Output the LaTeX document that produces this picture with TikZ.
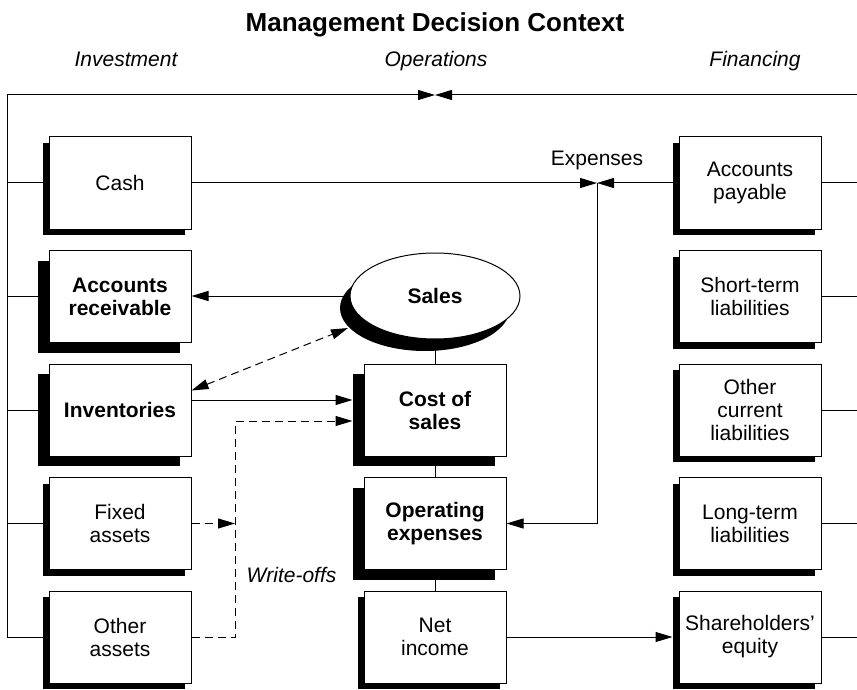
\documentclass[tikz,border=0pt]{standalone}
\usepackage{fontspec}
\setmainfont{Liberation Sans}
\usetikzlibrary{positioning,shadows,shapes.geometric,arrows.meta}

\begin{document}
\begin{tikzpicture}[x=1pt, y=-1pt, node distance=113.5pt,
        font=\fontsize{21}{23}\selectfont,
        cell/.style={rectangle, draw, line width=1pt, fill=white, minimum width=142pt, minimum height=92pt, inner sep=2pt, align=center},
        thin/.style={cell, drop shadow={shadow xshift=-6pt, shadow yshift=-6pt, opacity=1, fill=black}},
        heavy/.style={cell, font=\fontsize{21}{23}\selectfont\bfseries, drop shadow={shadow xshift=-11pt, shadow yshift=-10pt, opacity=1, fill=black}},
        link/.style={line width=1pt},
        flow/.style={line width=1pt, -{Triangle[length=17pt,width=10pt]}},
        wo/.style={dash pattern=on 8pt off 5pt},
        head/.style={anchor=base, font=\fontsize{21}{23}\selectfont\itshape}]
        \useasboundingbox (0,0) rectangle (857,690);

        % Headings
        \node (title) [anchor=base, font=\fontsize{26}{28}\selectfont\bfseries] at (435,32) {Management Decision Context};
        \node (invest) [head] at (126,67) {Investment};
        \node (oper) [head] at (436,67) {Operations};
        \node (finance) [head] at (755,67) {Financing};

        % Investment column
        \node (cash) [thin] at (120,183) {Cash};
        \node (ar) [heavy, below of=cash] {Accounts\\receivable};
        \node (inv) [heavy, below of=ar] {Inventories};
        \node (fixed) [thin, below of=inv] {Fixed\\assets};
        \node (other) [thin, below of=fixed] {Other\\assets};

        % Operations column
        \node (sales) [ellipse, draw, line width=1pt, fill=white, minimum width=170pt, minimum height=86pt, inner sep=0pt,
            font=\fontsize{21}{23}\selectfont\bfseries,
            drop shadow={shadow xshift=-10pt, shadow yshift=-12pt, opacity=1, fill=black}] at (435,296) {Sales};
        \node (cost) [heavy] at (435,410) {Cost of\\sales};
        \node (opex) [heavy, below of=cost] {Operating\\expenses};
        \node (net) [thin, below of=opex] {Net\\income};

        % Financing column
        \node (ap) [thin] at (750,183) {Accounts\\payable};
        \node (stl) [thin, below of=ap] {Short-term\\liabilities};
        \node (ocl) [thin, below of=stl] {Other\\current\\liabilities};
        \node (ltl) [thin, below of=ocl] {Long-term\\liabilities};
        \node (equity) [thin, below of=ltl] {Shareholders'\\equity};

        % Frame
        \coordinate (nw) at (7,95);
        \coordinate (ne) at (857,95);
        \coordinate (opmeet) at (435,95);
        \draw[flow] (nw) -- (opmeet);
        \draw[flow] (ne) -- (opmeet);
        \draw[link] (nw) -- (nw |- other.west);
        \foreach \n in {cash,ar,inv,fixed,other}
            \draw[link] (nw |- \n.west) -- (\n.west);
        \foreach \n in {ap,stl,ocl,ltl,equity}
            \draw[link] (\n.east) -- (ne |- \n.east);

        % Operations flows
        \draw[flow] (sales.west) -- (sales.west -| ar.east);
        \draw[link] (sales.south) -- (cost.north);
        \draw[link] (cost) -- (opex);
        \draw[link] (opex) -- (net);
        \draw[link, wo, {Triangle[length=17pt,width=10pt]}-{Triangle[length=17pt,width=10pt]}]
            ([yshift=-27pt]inv.north east) -- ([shift={(-87pt,-32pt)}]sales.center);
        \draw[flow] ([yshift=10pt]inv.east) -- ([xshift=-11pt,yshift=10pt]cost.west);
        \draw[flow] (net.east) -- ([xshift=-6pt]equity.west);

        % Expenses
        \coordinate (exp) at (597,183);
        \node (explabel) [anchor=base] at (597,166) {Expenses};
        \draw[flow] (cash.east) -- (exp);
        \draw[flow] (ap.west) -- (exp);
        \draw[flow] (exp) |- (opex.east);

        % Write-offs
        \coordinate (wo) at (235,421);
        \draw[flow, wo] (fixed.east) -- (fixed.east -| wo);
        \draw[flow, wo] (other.east) -| (wo) -- ([xshift=-11pt]cost.west |- wo);
        \node (wolabel) [anchor=base west, font=\fontsize{21}{23}\selectfont\itshape] at (243,582) {Write-offs};
    \end{tikzpicture}
\end{document}
